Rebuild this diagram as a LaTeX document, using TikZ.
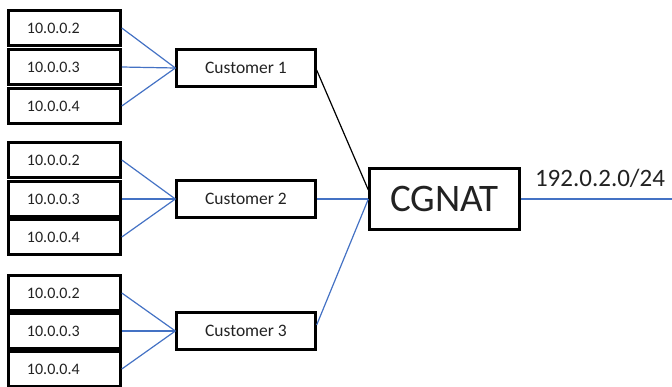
\documentclass[tikz,border=0pt]{standalone}
\usepackage{fontspec}
\setmainfont{Carlito}
\definecolor{linkblue}{HTML}{4472C4}
\definecolor{txt}{HTML}{222222}
\begin{document}
\begin{tikzpicture}[x=1pt,y=1pt,
  ipbox/.style={draw=black,line width=2.6pt,text width=75pt,align=left,inner xsep=18.5pt,inner ysep=0pt,minimum height=35pt,text=txt,font=\fontsize{16}{18}\selectfont},
  custbox/.style={draw=black,line width=2.3pt,minimum width=139pt,minimum height=37pt,inner sep=0pt,text=txt,font=\fontsize{17.5}{20}\selectfont},
  natbox/.style={draw=black,line width=2.3pt,minimum width=150pt,minimum height=61pt,inner sep=0pt,text=txt,font=\fontsize{39}{42}\selectfont},
  blink/.style={draw=linkblue,line width=1.2pt},
  klink/.style={draw=black,line width=1.2pt}]
\useasboundingbox (0,0) rectangle (672,-386);
% group 1
\node[ipbox] (a1) at (64.5,-28) {10.0.0.2};
\node[ipbox] (a2) at (64.5,-67) {10.0.0.3};
\node[ipbox] (a3) at (64.5,-106) {10.0.0.4};
% group 2
\node[ipbox] (b1) at (64.5,-160) {10.0.0.2};
\node[ipbox] (b2) at (64.5,-199) {10.0.0.3};
\node[ipbox] (b3) at (64.5,-237) {10.0.0.4};
% group 3
\node[ipbox] (d1) at (64.5,-293) {10.0.0.2};
\node[ipbox] (d2) at (64.5,-331) {10.0.0.3};
\node[ipbox] (d3) at (64.5,-369) {10.0.0.4};
% customers
\node[custbox] (c1) at (246,-68) {Customer 1};
\node[custbox] (c2) at (246,-199) {Customer 2};
\node[custbox] (c3) at (246,-331) {Customer 3};
% CGNAT
\node[natbox] (cg) at (444.5,-199) {CGNAT};
\coordinate (out) at (672,-199);
\node[font=\fontsize{25}{27}\selectfont,text=txt,anchor=center] (pfx) at (600,-178) {192.0.2.0/24};
% links
\foreach \s in {a1,a2,a3} \draw[blink] (\s.east) -- (c1.west);
\foreach \s in {b1,b2,b3} \draw[blink] (\s.east) -- (c2.west);
\foreach \s in {d1,d2,d3} \draw[blink] (\s.east) -- (c3.west);
\draw[klink] ([yshift=-2pt]c1.east) -- ([yshift=9pt]cg.west);
\draw[blink] (c2.east) -- (cg.west);
\draw[blink] ([yshift=6pt]c3.east) -- (cg.west);
\draw[blink] (cg.east) -- (out);
\end{tikzpicture}
\end{document}
